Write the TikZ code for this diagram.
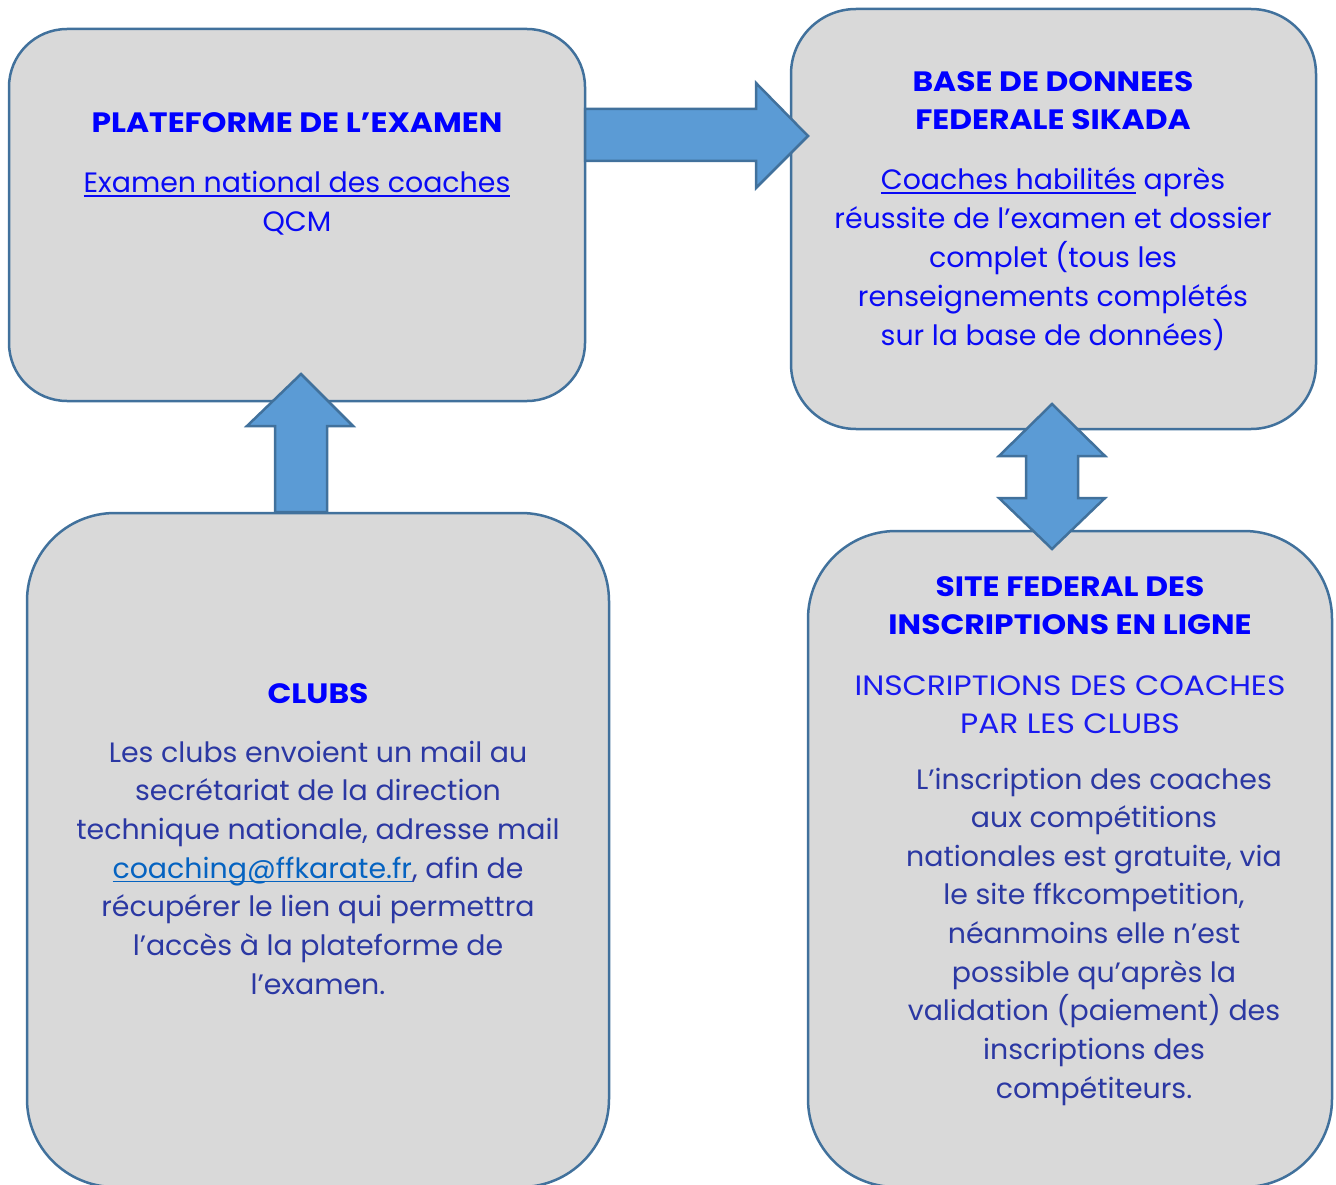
\documentclass[tikz,border=0pt]{standalone}
\usepackage{fontspec}
\setmainfont{Poppins}[FakeStretch=1.015, BoldFeatures={FakeStretch=1.12}]
\newfontfamily\capsfont{Poppins}[FakeStretch=1.12]
\newcommand\myul[1]{\setbox0\hbox{#1}\rlap{\rule[-4pt]{\wd0}{1.6pt}}\box0}
\definecolor{boxfill}{HTML}{D9D9D9}
\definecolor{boxline}{HTML}{41719C}
\definecolor{arrfill}{HTML}{5B9BD5}
\definecolor{arrline}{HTML}{41719C}
\definecolor{headblue}{HTML}{0000FF}
\definecolor{topblue}{HTML}{0A0AF5}
\definecolor{subblue}{HTML}{1A1AF0}
\definecolor{navy}{HTML}{2B38A3}
\definecolor{linkblue}{HTML}{0563C1}
\tikzset{
  box/.style={draw=boxline, fill=boxfill, line width=2.5pt, rounded corners=#1, inner sep=0pt},
  blockarrow/.style={draw=arrline, fill=arrfill, line width=2.5pt, line join=miter},
  headtxt/.style={font=\bfseries\fontsize{28}{38.7}\selectfont, text=headblue, anchor=base, inner sep=0pt},
  bodytxt/.style={font=\fontsize{28}{38.7}\selectfont, text=#1, anchor=base, inner sep=0pt},
}
\begin{document}
\begin{tikzpicture}[x=1pt,y=-1pt]
\useasboundingbox (0,0) rectangle (1336,1185);
% boxes
\node[box=58pt, minimum width=576pt, minimum height=372pt] (b1) at (297,215) {};
\node[box=65pt, minimum width=525pt, minimum height=420pt] (b2) at (1053.5,219) {};
\node[box=88pt, minimum width=582pt, minimum height=674pt] (b3) at (318,850) {};
\node[box=88pt, minimum width=524pt, minimum height=656pt] (b4) at (1070,859) {};
% block arrows
\draw[blockarrow] (585,109) -- (756,109) -- (756,83) -- (808,136) -- (756,188) -- (756,161) -- (585,161) -- cycle;
\draw[blockarrow] (275,512) -- (275,426) -- (247,426) -- (301,374) -- (353,426) -- (327,426) -- (327,512) -- cycle;
\draw[blockarrow] (1052,404) -- (1105,456) -- (1078,456) -- (1078,498) -- (1105,498) -- (1052,549) -- (999,498) -- (1026,498) -- (1026,456) -- (999,456) -- cycle;
% box 1 text
\node[headtxt] (t1h) at (297,133) {PLATEFORME DE L’EXAMEN};
\node[bodytxt=topblue] (t1a) at (297,193) {\myul{Examen national des coaches}};
\node[bodytxt=topblue] (t1b) at (297,232) {QCM};
% box 2 text
\node[headtxt] (t2h1) at (1053,92) {BASE DE DONNEES};
\node[headtxt] (t2h2) at (1053,130) {FEDERALE SIKADA};
\foreach \t [count=\i from 0] in {{\myul{Coaches habilités}\ après},{réussite de l’examen et dossier},{complet (tous les},{renseignements complétés},{sur la base de données)}}
  \node[bodytxt=topblue] (t2b\i) at (1053,190+38.75*\i) {\t};
% box 3 text
\node[headtxt] (t3h) at (318,703) {CLUBS};
\foreach \t [count=\i from 0] in {{Les clubs envoient un mail au},{secrétariat de la direction},{technique nationale, adresse mail},{\textcolor{linkblue}{\myul{coaching@ffkarate.fr}}, afin de},{récupérer le lien qui permettra},{l’accès à la plateforme de},{l’examen.}}
  \node[bodytxt=navy] (t3b\i) at (318,762+38.7*\i) {\t};
% box 4 text
\node[headtxt] (t4h1) at (1070,596) {SITE FEDERAL DES};
\node[headtxt] (t4h2) at (1070,634) {INSCRIPTIONS EN LIGNE};
\node[bodytxt=subblue] (t4s1) at (1070,695) {\capsfont INSCRIPTIONS DES COACHES};
\node[bodytxt=subblue] (t4s2) at (1070,733) {\capsfont PAR LES CLUBS};
\foreach \t [count=\i from 0] in {{L’inscription des coaches},{aux compétitions},{nationales est gratuite, via},{le site ffkcompetition,},{néanmoins elle n’est},{possible qu’après la},{validation (paiement) des},{inscriptions des},{compétiteurs.}}
  \node[bodytxt=navy] (t4b\i) at (1094,789+38.65*\i) {\t};
\end{tikzpicture}
\end{document}
